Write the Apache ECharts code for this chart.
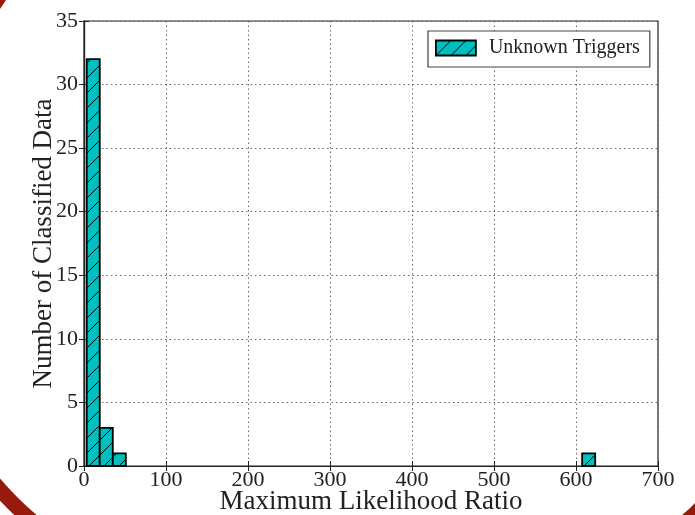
<!DOCTYPE html>
<html>
<head>
<meta charset="utf-8">
<script src="https://cdn.jsdelivr.net/npm/echarts@6/dist/echarts.min.js"></script>
<style>
html,body{margin:0;padding:0;background:#fff;}
#chart{width:695px;height:515px;}
</style>
</head>
<body>
<div id="chart"></div>
<script>
// ---- data ----
const binLeft  = [3.3, 19.2, 35.1, 607.5];
const binRight = [19.2, 35.1, 51.0, 623.4];
const counts   = [32, 3, 1, 1];
const seriesName = 'Unknown Triggers';
const xTitle = 'Maximum Likelihood Ratio';
const yTitle = 'Number of Classified Data';
const xTicks = [0, 100, 200, 300, 400, 500, 600, 700];
const yTicks = [0, 5, 10, 15, 20, 25, 30, 35];

// hatch pattern ('/' hatch on cyan)
function makeHatch() {
  const s = 15;
  const c = document.createElement('canvas');
  c.width = s; c.height = s;
  const g = c.getContext('2d');
  g.fillStyle = '#00BFBF';
  g.fillRect(0, 0, s, s);
  g.strokeStyle = '#000';
  g.lineWidth = 1;
  g.beginPath();
  g.moveTo(-2, s + 2); g.lineTo(s + 2, -2);
  g.moveTo(-2, 2); g.lineTo(2, -2);
  g.moveTo(s - 2, s + 2); g.lineTo(s + 2, s - 2);
  g.stroke();
  return { image: c, repeat: 'repeat' };
}
const hatch = makeHatch();

const data = binLeft.map((l, i) => [l, binRight[i], counts[i]]);
const FONT = 'Liberation Serif';
const RED = '#961b0c';

const chart = echarts.init(document.getElementById('chart'), null, { renderer: 'canvas' });
chart.setOption({
  backgroundColor: '#fff',
  animation: false,
  graphic: [{
    type: 'arc',
    shape: { cx: 267, cy: 248, r: 360, startAngle: Math.PI * 2 / 3, endAngle: Math.PI * 5 / 6, clockwise: true },
    style: { fill: 'none', stroke: RED, lineWidth: 15 },
    silent: true, z: -10
  }, {
    type: 'polygon',
    shape: { points: [[0, 0], [6, 0], [0, 9]] },
    style: { fill: RED },
    silent: true, z: -10
  }, {
    type: 'polygon',
    shape: { points: [[682, 515], [689, 509], [695, 503], [695, 515]] },
    style: { fill: RED },
    silent: true, z: -10
  }],
  grid: {
    left: 84, right: 37, top: 21, bottom: 49,
    outerBoundsMode: 'none', containLabel: false,
    show: true, borderColor: '#222', borderWidth: 1.2, backgroundColor: 'transparent'
  },
  legend: {
    left: 428, top: 31,
    orient: 'vertical',
    padding: [7, 10, 9, 7],
    itemWidth: 40, itemHeight: 15, itemGap: 0,
    borderColor: '#444', borderWidth: 1.2, borderRadius: 0,
    backgroundColor: '#fff',
    icon: 'rect',
    textStyle: { fontFamily: FONT, fontSize: 20, color: '#222', padding: [0, 0, 0, 8] },
    data: [{ name: seriesName, itemStyle: { color: hatch, borderColor: '#000', borderWidth: 1.8 } }]
  },
  xAxis: [{
    type: 'value', min: xTicks[0], max: xTicks[xTicks.length - 1], interval: 100,
    position: 'bottom',
    name: xTitle, nameLocation: 'middle', nameGap: 22, nameMoveOverlap: false,
    nameTextStyle: { fontFamily: FONT, fontSize: 27, color: '#222' },
    axisLine: { show: true, onZero: false, lineStyle: { color: '#222', width: 1.2 } },
    axisTick: { show: true, inside: true, length: 5, lineStyle: { color: '#222' } },
    axisLabel: { fontFamily: FONT, fontSize: 22, color: '#222', margin: 3 },
    splitLine: { show: true, lineStyle: { color: '#666', type: [1.5, 3], width: 1 } }
  }, {
    type: 'value', min: xTicks[0], max: xTicks[xTicks.length - 1], interval: 100,
    position: 'top',
    axisLine: { show: true, lineStyle: { color: '#222', width: 1.2 } },
    axisTick: { show: true, inside: true, length: 5, lineStyle: { color: '#222' } },
    axisLabel: { show: false },
    splitLine: { show: false }
  }],
  yAxis: [{
    type: 'value', min: yTicks[0], max: yTicks[yTicks.length - 1], interval: 5,
    position: 'left',
    name: yTitle, nameLocation: 'middle', nameGap: 27, nameRotate: 90, nameMoveOverlap: false,
    nameTextStyle: { fontFamily: FONT, fontSize: 27, color: '#222' },
    axisLine: { show: true, onZero: false, lineStyle: { color: '#222', width: 1.2 } },
    axisTick: { show: true, inside: true, length: 5, lineStyle: { color: '#222' } },
    axisLabel: { fontFamily: FONT, fontSize: 22, color: '#222', margin: 6 },
    splitLine: { show: true, lineStyle: { color: '#666', type: [1.5, 3], width: 1 } }
  }, {
    type: 'value', min: yTicks[0], max: yTicks[yTicks.length - 1], interval: 5,
    position: 'right',
    axisLine: { show: true, lineStyle: { color: '#222', width: 1.2 } },
    axisTick: { show: true, inside: true, length: 5, lineStyle: { color: '#222' } },
    axisLabel: { show: false },
    splitLine: { show: false }
  }],
  series: [{
    name: seriesName,
    type: 'custom',
    xAxisIndex: 0, yAxisIndex: 0,
    itemStyle: { color: hatch, borderColor: '#000', borderWidth: 1.8 },
    encode: { x: [0, 1], y: 2 },
    data: data,
    renderItem: function (params, api) {
      const p0 = api.coord([api.value(0), api.value(2)]);
      const p1 = api.coord([api.value(1), 0]);
      return {
        type: 'rect',
        shape: { x: p0[0], y: p0[1], width: p1[0] - p0[0], height: p1[1] - p0[1] },
        style: { fill: hatch, stroke: '#000', lineWidth: 1.8 }
      };
    }
  }]
});
</script>
</body>
</html>
